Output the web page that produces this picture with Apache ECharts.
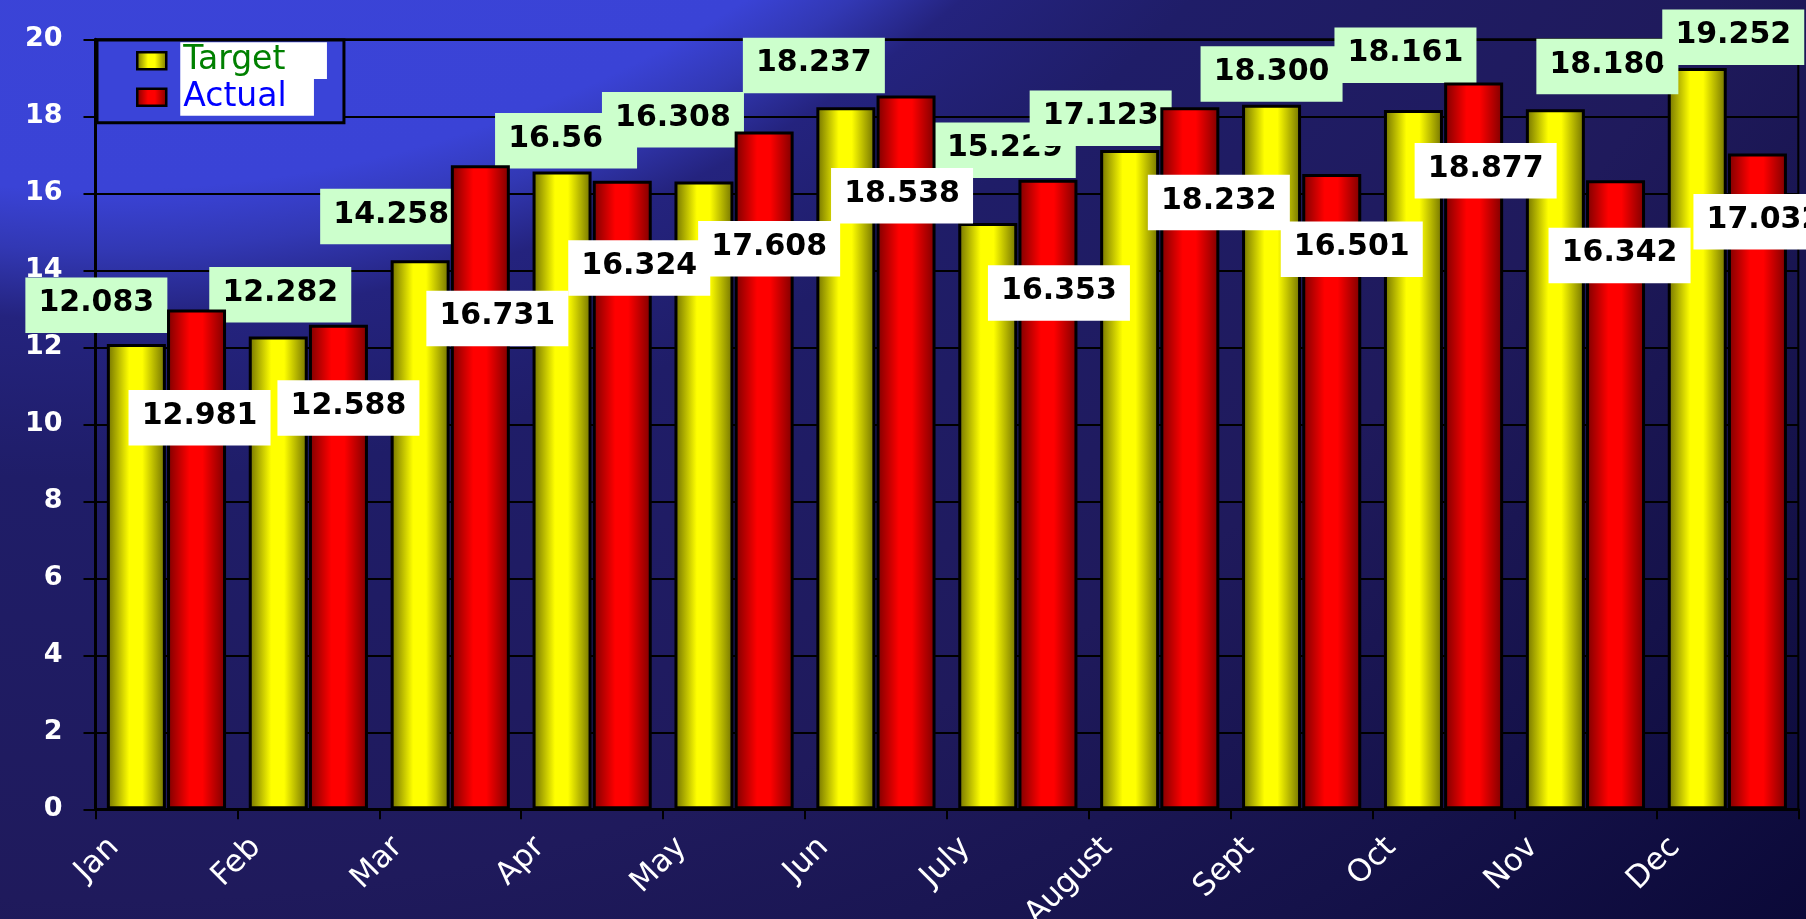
<!DOCTYPE html>
<html>
<head>
<meta charset="utf-8">
<script src="https://cdn.jsdelivr.net/npm/echarts@6/dist/echarts.min.js"></script>
<style>
html, body { margin: 0; padding: 0; width: 1806px; height: 919px; overflow: hidden; }
#chart {
  width: 1806px; height: 919px;
  background: radial-gradient(circle at 100px -1000px,
    #3d47dd 0px, #3a43d6 1190px, #3238b4 1250px, #24237e 1320px,
    #1f1d68 1480px, #1f1a5c 1900px, #15124a 2250px, #0a0836 2600px);
}
</style>
</head>
<body>
<div id="chart"></div>
<script>
// ---------- data ----------
const months = ['Jan', 'Feb', 'Mar', 'Apr', 'May', 'Jun', 'July', 'August', 'Sept', 'Oct', 'Nov', 'Dec'];
const seriesNames = ['Target', 'Actual'];
const target = [12.083, 12.282, 14.258, 16.563, 16.308, 18.237, 15.229, 17.123, 18.300, 18.161, 18.180, 19.252];
const actual = [12.981, 12.588, 16.731, 16.324, 17.608, 18.538, 16.353, 18.232, 16.501, 18.877, 16.342, 17.032];
const yMin = 0, yMax = 20, yStep = 2;

// ---------- layout (label nudges in px, relative to the bar top) ----------
const targetLabelNudge = [[-40, -11], [2, -14], [-29, -16], [4, -3], [-31, -34], [-32, -14],
                          [17, -45], [-29, -4], [0, -3], [-8, -27], [52, -15], [36, -3]];
const actualLabelNudge = [[3, 136], [10, 111], [17, 181], [17, 115], [5, 145], [-4, 128],
                          [11, 141], [29, 123], [20, 103], [12, 116], [4, 103], [7, 96]];

const chart = echarts.init(document.getElementById('chart'), null, { renderer: 'canvas' });

function barGrad(dark, bright) {
  return new echarts.graphic.LinearGradient(0, 0, 1, 0, [
    { offset: 0, color: dark },
    { offset: 0.38, color: bright },
    { offset: 0.6, color: bright },
    { offset: 1, color: dark }
  ]);
}

const labelBase = {
  show: true,
  position: 'top',
  distance: 0,
  fontFamily: 'DejaVu Sans',
  fontWeight: 'bold',
  fontSize: 30,
  color: '#000',
  width: 122,
  height: 34,
  lineHeight: 34,
  align: 'center',
  padding: [9, 10, 12.5, 10],
  formatter: p => Number(p.value).toFixed(3)
};

const option = {
  backgroundColor: 'transparent',
  animation: false,
  grid: {
    left: 95.5, right: 7.7, top: 39.3, bottom: 109.7,
    outerBoundsMode: 'none',
    containLabel: false,
    show: true, borderColor: '#000', borderWidth: 2, backgroundColor: 'transparent'
  },
  legend: {
    orient: 'vertical',
    left: 97, top: 40,
    padding: [2.3, 17, 7, 39],
    itemGap: 0,
    itemWidth: 47, itemHeight: 17,
    icon: 'path://M0,0H29V17H0Z',
    backgroundColor: '#3a44d8',
    borderColor: '#000', borderWidth: 3,
    itemStyle: { borderColor: '#000', borderWidth: 2.5 },
    textStyle: {
      fontFamily: 'DejaVu Sans', fontSize: 33,
      backgroundColor: '#fff', padding: [0, 0, 0, 3],
      height: 36.7, lineHeight: 36.7
    },
    data: [
      { name: seriesNames[0], textStyle: { color: '#008000', width: 143.7 } },
      { name: seriesNames[1], textStyle: { color: '#0000ff', width: 130.7 } }
    ]
  },
  xAxis: {
    type: 'category',
    data: months,
    boundaryGap: true,
    axisLine: { show: true, lineStyle: { color: '#000', width: 3 } },
    axisTick: { show: true, length: 10, lineStyle: { color: '#000', width: 2 } },
    axisLabel: {
      interval: 0, rotate: 45, color: '#fff',
      fontFamily: 'DejaVu Sans', fontSize: 31,
      margin: -19, padding: [0, 74, 0, 0]
    },
    splitLine: { show: false }
  },
  yAxis: {
    type: 'value',
    min: yMin, max: yMax, interval: yStep,
    axisLine: { show: true, lineStyle: { color: '#000', width: 3 } },
    axisTick: { show: true, length: 12, lineStyle: { color: '#000', width: 2 } },
    axisLabel: {
      color: '#fff', fontFamily: 'DejaVu Sans', fontWeight: 'bold', fontSize: 27, margin: 33
    },
    splitLine: { show: true, lineStyle: { color: '#000', width: 2 } }
  },
  series: [
    {
      name: seriesNames[0],
      type: 'bar',
      barWidth: 59,
      barGap: '2%',
      itemStyle: { color: barGrad('#6e6e00', '#ffff00'), borderColor: '#000', borderWidth: 3 },
      label: Object.assign({}, labelBase, { backgroundColor: '#ccffcc' }),
      z: 2,
      data: target.map((v, i) => ({ value: v, label: { offset: targetLabelNudge[i] } }))
    },
    {
      name: seriesNames[1],
      type: 'bar',
      barWidth: 59,
      barGap: '2%',
      itemStyle: { color: barGrad('#7a0000', '#ff0000'), borderColor: '#000', borderWidth: 3 },
      label: Object.assign({}, labelBase, { backgroundColor: '#ffffff' }),
      z: 3,
      data: actual.map((v, i) => ({ value: v, label: { offset: actualLabelNudge[i] } }))
    }
  ]
};

chart.setOption(option);
</script>
</body>
</html>
